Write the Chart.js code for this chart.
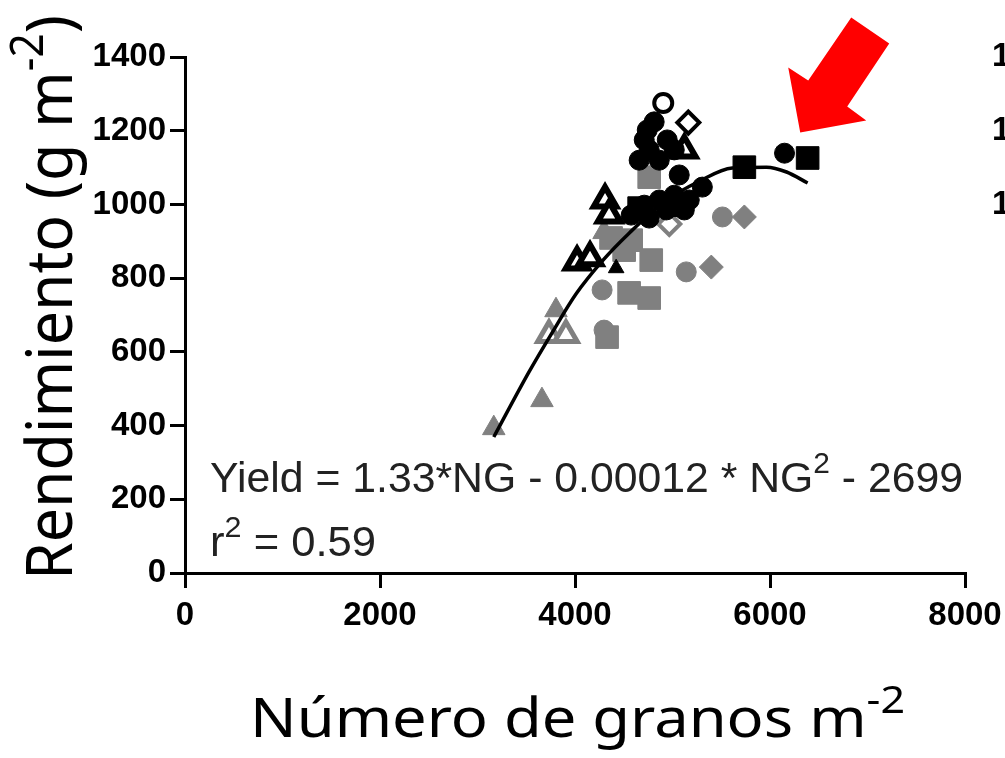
<!DOCTYPE html>
<html>
<head>
<meta charset="utf-8">
<script src="https://cdn.jsdelivr.net/npm/chart.js@4.4.0/dist/chart.umd.min.js"></script>
<style>
html, body { margin: 0; padding: 0; background: #fff; }
</style>
</head>
<body>
<canvas id="chartCanvas" width="1005" height="758"></canvas>
<script>
// akser
var xTicks = [0, 2000, 4000, 6000, 8000]
var yTicks = [0, 200, 400, 600, 800, 1000, 1200, 1400]

// punkter [NG, yield]
var blackCircles = [[6149,1139],[5069,1080],[5306,1047],
  [4812,1224],[4710,1175],[4946,1175],[4658,1120],[4864,1120],[4761,1148],[5018,1148],[4741,1202],
  [4576,971],[4710,998],[4864,1012],[5018,1025],[5172,1012],[4761,963],[4936,985],[5121,985]]
var blackSquares = [[5737,1101],[6386,1126],[4658,990],[5018,998]]
var blackOpenTriangles = [[4308,1012],[4350,971],[4021,844],[4154,855],[5121,1148]]
var blackSmallTriangles = [[4422,827]]
var blackOpenCircles = [[4905,1275]]
var blackOpenDiamonds = [[5162,1222]]

var grayCircles = [[4298,659],[5141,817],[5512,966],[4278,768]]
var graySquares = [[4761,1074],[4782,849],[4761,746],[4555,760],[4329,640],[4370,909],[4576,903],[4504,876]]
var grayDiamonds = [[5398,830],[5737,966]]
var grayOpenDiamonds = [[4967,947]]
var grayTriangles = [[3167,393],[3661,469],[3805,713],[4298,925]]
var grayOpenTriangles = [[3733,646],[3907,646]]

// tilpasset kurve
var curveX = [3167, 3527, 3763, 4010, 4288, 4555, 4915, 5275, 5614, 5964, 6170, 6386]
var curveY = [369, 545, 651, 757, 849, 922, 1007, 1063, 1099, 1101, 1088, 1058]

// tekster
var yTitle = [{t: 'Rendimiento (g m'}, {t: '-2', sup: true}, {t: ')'}]
var xTitle = [{t: 'Número de granos m'}, {t: '-2', sup: true}]
var equation = [{t: 'Yield = 1.33*NG - 0.00012 * NG'}, {t: '2', sup: true}, {t: ' - 2699'}]
var rSquared = [{t: 'r'}, {t: '2', sup: true}, {t: ' = 0.59'}]
var nextPanelTicks = [1400, 1200, 1000]

var gray = '#808080'
var tickFont = {family: 'Liberation Sans', size: 33, weight: 'bold'}

function pts(list) {
  return list.map(p => ({x: p[0], y: p[1]}))
}

function ds(label, list, style, radius, bg, border, bw, order) {
  return {
    label: label, data: pts(list), pointStyle: style, pointRadius: radius, pointHoverRadius: radius,
    backgroundColor: bg, borderColor: border, borderWidth: bw, order: order
  }
}

// tekst med hævet skrift, strakt til en given bredde
function richWidth(ctx, parts, size, family) {
  var w = 0
  parts.forEach(p => {
    ctx.font = (p.sup ? size * 0.7 : size) + 'px "' + family + '"'
    w += ctx.measureText(p.t).width
  })
  return w
}

function drawRich(ctx, parts, x, y, size, family, target) {
  var w = richWidth(ctx, parts, size, family)
  ctx.save()
  ctx.translate(x, y)
  if (target) ctx.scale(target / w, 1)
  var cx = 0
  parts.forEach(p => {
    ctx.font = (p.sup ? size * 0.7 : size) + 'px "' + family + '"'
    ctx.fillText(p.t, cx, p.sup ? -size * 0.45 : 0)
    cx += ctx.measureText(p.t).width
  })
  ctx.restore()
}

var extras = {
  id: 'extras',
  afterDraw(chart) {
    var ctx = chart.ctx
    var xs = chart.scales.x
    var ys = chart.scales.y
    ctx.save()
    ctx.textAlign = 'left'
    ctx.textBaseline = 'alphabetic'

    // ligning og r2
    ctx.fillStyle = '#222'
    drawRich(ctx, equation, xs.getPixelForValue(257), ys.getPixelForValue(220), 42, 'Liberation Sans', 753)
    drawRich(ctx, rSquared, xs.getPixelForValue(257), ys.getPixelForValue(46), 42, 'Liberation Sans', 166)

    // aksetitler
    ctx.fillStyle = '#000'
    ctx.save()
    ctx.translate(72, 580)
    ctx.rotate(-Math.PI / 2)
    drawRich(ctx, yTitle, 0, 0, 64, 'Noto Sans', 565)
    ctx.restore()
    drawRich(ctx, xTitle, 250, 737, 54, 'Noto Sans', 655)

    // rester af næste panel i højre kant
    ctx.font = 'bold 33px "Liberation Sans"'
    ctx.textBaseline = 'middle'
    nextPanelTicks.forEach(v => ctx.fillText(String(v), 992, ys.getPixelForValue(v)))

    // rød pil
    var tx = xs.getPixelForValue(6310)
    var ty = ys.getPixelForValue(1195)
    var arrow = [[0,0],[-12,-65],[8,-52],[51,-115],[89,-89],[47,-26],[66,-12]]
    ctx.fillStyle = '#ff0000'
    ctx.beginPath()
    arrow.forEach((a, i) => i ? ctx.lineTo(tx + a[0], ty + a[1]) : ctx.moveTo(tx + a[0], ty + a[1]))
    ctx.closePath()
    ctx.fill()
    ctx.restore()
  }
}

var datasets = [
  ds('blackCircles', blackCircles, 'circle', 10, '#000', '#000', 1, 1),
  ds('blackSquares', blackSquares, 'rect', 16, '#000', '#000', 1, 1),
  ds('blackOpenTriangles', blackOpenTriangles, 'triangle', 13, '#fff', '#000', 6, 1),
  ds('blackSmallTriangles', blackSmallTriangles, 'triangle', 9, '#000', '#000', 1, 1),
  ds('blackOpenCircles', blackOpenCircles, 'circle', 9, '#fff', '#000', 4, 1),
  ds('blackOpenDiamonds', blackOpenDiamonds, 'rectRot', 11, '#fff', '#000', 4, 1),
  {
    label: 'fit', data: curveX.map((x, i) => ({x: x, y: curveY[i]})), showLine: true,
    borderColor: '#000', borderWidth: 3.5, pointRadius: 0, cubicInterpolationMode: 'monotone',
    fill: false, order: 2
  },
  ds('grayCircles', grayCircles, 'circle', 10, gray, gray, 1, 3),
  ds('graySquares', graySquares, 'rect', 16, gray, gray, 1, 3),
  ds('grayDiamonds', grayDiamonds, 'rectRot', 12, gray, gray, 1, 3),
  ds('grayOpenDiamonds', grayOpenDiamonds, 'rectRot', 11, '#fff', gray, 4, 3),
  ds('grayTriangles', grayTriangles, 'triangle', 13, gray, gray, 1, 3),
  ds('grayOpenTriangles', grayOpenTriangles, 'triangle', 13, '#fff', gray, 5, 3)
]

var axisCommon = {
  grid: {drawOnChartArea: false, drawTicks: true, tickLength: 15, lineWidth: 3, color: '#000'},
  border: {display: true, color: '#000', width: 3}
}

new Chart(document.getElementById('chartCanvas'), {
  type: 'scatter',
  data: {datasets: datasets},
  plugins: [extras],
  options: {
    responsive: false,
    animation: false,
    layout: {padding: {left: 0, top: 57, right: 40, bottom: 0}},
    plugins: {legend: {display: false}, tooltip: {enabled: false}},
    scales: {
      x: Object.assign({}, axisCommon, {
        min: 0, max: 8000,
        afterFit: s => { s.height = 185; s.paddingLeft = 0; s.paddingRight = 0 },
        afterBuildTicks: s => { s.ticks = xTicks.map(v => ({value: v})) },
        ticks: {font: tickFont, color: '#000', padding: 8, maxRotation: 0, autoSkip: false,
          callback: v => String(v)}
      }),
      y: Object.assign({}, axisCommon, {
        min: 0, max: 1400,
        afterFit: s => { s.width = 185; s.paddingTop = 0; s.paddingBottom = 0 },
        afterBuildTicks: s => { s.ticks = yTicks.map(v => ({value: v})) },
        ticks: {font: tickFont, color: '#000', padding: 4, autoSkip: false,
          callback: v => String(v)}
      })
    }
  }
})
</script>
</body>
</html>
